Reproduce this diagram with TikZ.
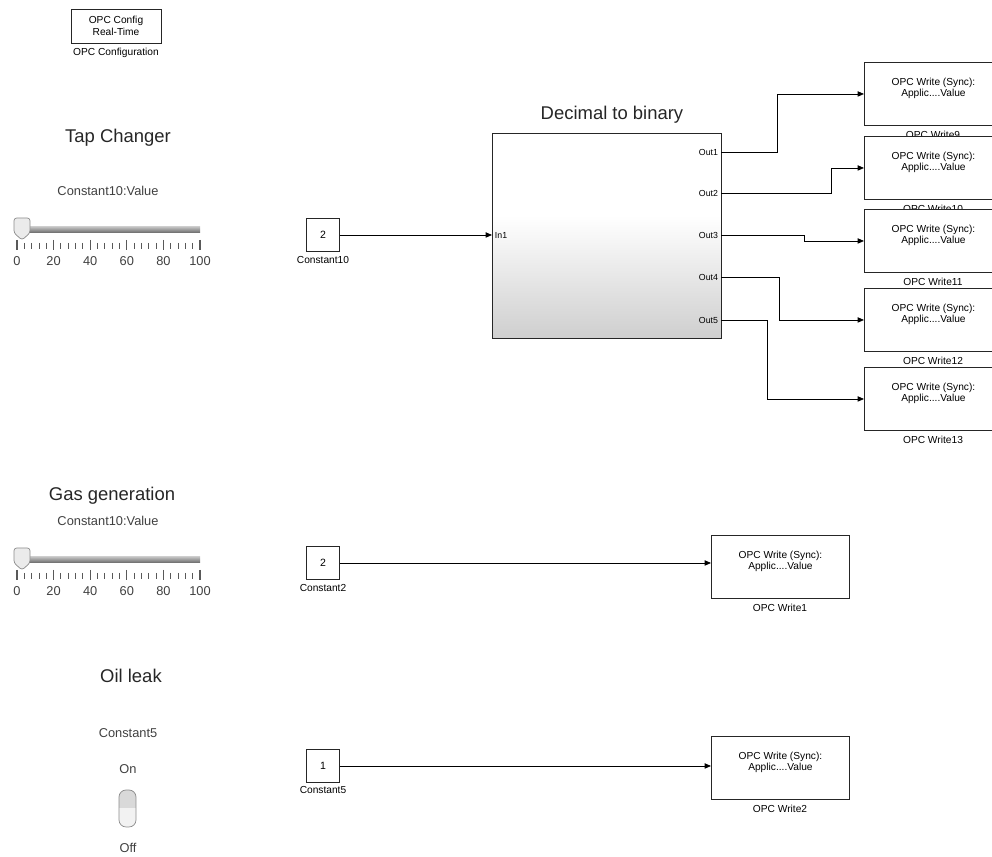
\documentclass[tikz,border=0pt]{standalone}
\usepackage{fontspec}
\setmainfont{Liberation Sans}
\usetikzlibrary{arrows.meta}

\pgfdeclareverticalshading{subsys}{100bp}{color(0bp)=(black!19); color(25bp)=(black!19);
  color(55bp)=(white); color(100bp)=(white)}

\tikzset{
  blk/.style={draw=black!85,line width=0.55pt,fill=white,inner sep=0pt},
  cst/.style={blk,minimum width=0.66cm,minimum height=0.66cm,font=\fontsize{6}{7}\selectfont},
  opcw/.style={blk,minimum width=2.76cm,minimum height=1.26cm,anchor=north west},
  tiny/.style={font=\fontsize{5.8}{6.4}\selectfont,align=center,inner sep=0pt},
  port/.style={font=\fontsize{5}{6}\selectfont,inner sep=1.5pt},
  ttl/.style={font=\fontsize{10.5}{12}\selectfont,text=black!85},
  gry/.style={font=\fontsize{7.3}{8.5}\selectfont,text=black!75},
  sig/.style={line width=0.45pt,-{Triangle[length=3.6pt,width=3pt]}},
}

\begin{document}
\begin{tikzpicture}[x=0.02cm,y=-0.02cm]
\clip (0,0) rectangle (992,857);

% configuration block
\node[blk,minimum width=1.8cm,minimum height=0.68cm,tiny,font=\fontsize{5.8}{7.2}\selectfont] (cfg) at (116,26) {OPC Config\\Real-Time};
\node[tiny] at (116,53) {OPC Configuration};

% dashboard
\node[ttl] (tap) at (118,138) {Tap Changer};
\node[gry] at (108,191) {Constant10:Value};
\node[ttl] (gas) at (112,496) {Gas generation};
\node[gry] at (108,521) {Constant10:Value};

\foreach \sy in {230,560} {
  \shade[top color=black!25,bottom color=black!60] (17,\sy-3) rectangle (200,\sy+3);
  \foreach \k in {0,...,25}
    \draw[black!65,line width=0.5pt] ({17+\k*7.32},\sy+13) -- ++(0,6);
  \foreach \k in {0,5,...,25}
    \draw[black!65,line width=0.6pt] ({17+\k*7.32},\sy+10) -- ++(0,10);
  \foreach \v [count=\i from 0] in {0,20,40,60,80,100}
    \node[gry] at ({17+\i*36.6},\sy+31) {\v};
  \draw[black!45,fill=black!8,rounded corners=1.5pt] (14,\sy+3) -- (14,\sy-12) -- (30,\sy-12) -- (30,\sy+3) -- (22,\sy+10) -- cycle;
}

\node[ttl] (oil) at (131,676) {Oil leak};
\node[gry] at (128,733) {Constant5};
\node[gry] at (128,769) {On};
\begin{scope}
  \clip[rounded corners=4pt] (119,790) rectangle (136,827);
  \fill[black!5] (119,790) rectangle (136,827);
  \fill[black!15] (119,790) rectangle (136,808);
\end{scope}
\draw[black!45,rounded corners=4pt] (119,790) rectangle (136,827);
\node[gry] at (128,848) {Off};

% decimal to binary subsystem
\node[ttl] at (612,115) {Decimal to binary};
\node[blk,anchor=north west,minimum width=4.58cm,minimum height=4.1cm,
  shading=subsys] (d2b) at (492,133) {};

\node[cst] (c10) at (323,235) {2};
\node[tiny] at (323,260) {Constant10};
\draw[sig] (c10) -- (c10 -| d2b.west);
\node[port,anchor=west] at (c10 -| d2b.west) {In1};

\foreach \i/\oy in {1/152,2/193,3/235,4/277,5/320} {
  \coordinate (o\i) at (721,\oy);
  \node[port,anchor=east] at (o\i) {Out\i};
}

% OPC write blocks
\foreach \n/\ty in {9/62,10/136,11/209,12/288,13/367} {
  \node[tiny] at (933,\ty+73) {OPC Write\n};
  \node[opcw] (w\n) at (864,\ty) {};
  \node[tiny] at ([yshift=0.11cm]w\n.center) {OPC Write (Sync):\\Applic....Value};
}

\draw[sig] (o1) -- ++(56,0) |- (w9.west);
\draw[sig] (o2) -- ++(110,0) |- (w10.west);
\draw[sig] (o3) -- ++(83,0) |- (w11.west);
\draw[sig] (o4) -- ++(58,0) |- (w12.west);
\draw[sig] (o5) -- ++(46,0) |- (w13.west);

\node[cst] (c2) at (323,563) {2};
\node[tiny] at (323,588) {Constant2};
\node[opcw] (w1) at (711,535) {};
\node[tiny] at ([yshift=0.11cm]w1.center) {OPC Write (Sync):\\Applic....Value};
\node[tiny] at (780,608) {OPC Write1};
\draw[sig] (c2) -- (c2 -| w1.west);

\node[cst] (c5) at (323,766) {1};
\node[tiny] at (323,790) {Constant5};
\node[opcw] (w2) at (711,736) {};
\node[tiny] at ([yshift=0.11cm]w2.center) {OPC Write (Sync):\\Applic....Value};
\node[tiny] at (780,809) {OPC Write2};
\draw[sig] (c5) -- (c5 -| w2.west);
\end{tikzpicture}
\end{document}
